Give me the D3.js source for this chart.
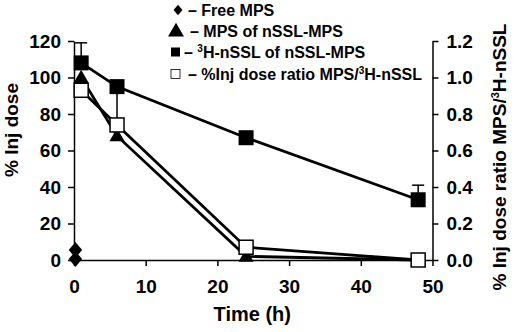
<!DOCTYPE html>
<html>
<head>
<meta charset="utf-8">
<script src="https://cdn.jsdelivr.net/npm/d3@7"></script>
<style>
  body { margin: 0; background: #fff; }
  text { font-family: "Liberation Sans", Arial, sans-serif; font-weight: bold; fill: #000; }
  .axis path, .axis line { stroke: #000; stroke-width: 1.5; }
</style>
</head>
<body>
<div id="graph"></div>
<script>
// time points (h)
var timesFree = [0.2, 0.2];
var freeMPS = [5.5, 0.5];

var times = [1, 6, 24, 48];
var mpsOfNssl = [100, 68, 2, 0];
var nsslH3 = [108, 95, 67, 33];
var nsslErrUp = [11, 0, 0, 8];
var nsslErrDown = [0, 20, 0, 0];
var ratio = [0.93, 0.74, 0.07, 0.0];   // right axis

var xTicks = [0, 10, 20, 30, 40, 50];
var yTicks = [0, 20, 40, 60, 80, 100, 120];
var y2Ticks = [0, 0.2, 0.4, 0.6, 0.8, 1.0, 1.2];

var legendLabels = ["Free MPS", "MPS of nSSL-MPS", "H-nSSL of nSSL-MPS", "%Inj dose ratio MPS/"];

var width = 514, height = 332;
var margin = { top: 41, right: 82, bottom: 72, left: 74 };

var svg = d3.select("#graph").append("svg")
  .attr("width", width)
  .attr("height", height);

var x = d3.scaleLinear().domain([0, 50]).range([margin.left, width - margin.right + 0.5]);
var y = d3.scaleLinear().domain([0, 120]).range([height - margin.bottom, margin.top]);
var y2 = d3.scaleLinear().domain([0, 1.2]).range([height - margin.bottom, margin.top]);

// diamond with its own width / height
var diamond = {
  draw: function (ctx, size) {
    var h = Math.sqrt(size) / 2, w = h * 0.85;
    ctx.moveTo(0, -h); ctx.lineTo(w, 0); ctx.lineTo(0, h); ctx.lineTo(-w, 0); ctx.closePath();
  }
};

// axes
var xAxis = svg.append("g").attr("class", "axis")
  .attr("transform", "translate(0," + y(0) + ")")
  .call(d3.axisBottom(x).tickValues(xTicks).tickSize(6).tickSizeOuter(0).tickPadding(14));
xAxis.selectAll("text").style("font-size", "19px");

var yAxis = svg.append("g").attr("class", "axis")
  .attr("transform", "translate(" + x(0) + ",0)")
  .call(d3.axisLeft(y).tickValues(yTicks).tickSize(6).tickSizeOuter(0).tickPadding(7));
yAxis.selectAll("text").style("font-size", "19px");

var y2Axis = svg.append("g").attr("class", "axis")
  .attr("transform", "translate(" + x(50) + ",0)")
  .call(d3.axisRight(y2).tickValues(y2Ticks).tickFormat(d3.format(".1f")).tickSize(6).tickSizeOuter(0).tickPadding(8));
y2Axis.selectAll("text").style("font-size", "19px");

// axis titles
svg.append("text")
  .attr("x", x(25) - 1).attr("y", 321)
  .attr("text-anchor", "middle")
  .style("font-size", "20px")
  .text("Time (h)");

svg.append("text")
  .attr("transform", "translate(18,130) rotate(-90)")
  .attr("text-anchor", "middle")
  .style("font-size", "19px")
  .text("% Inj dose");

var t2 = svg.append("text")
  .attr("transform", "translate(506,157) rotate(-90)")
  .attr("text-anchor", "middle")
  .style("font-size", "19px");
t2.append("tspan").text("% Inj dose ratio MPS/");
t2.append("tspan").attr("dy", -7).style("font-size", "11px").text("3");
t2.append("tspan").attr("dy", 7).text("H-nSSL");

// lines
var line = d3.line().x(function (d) { return x(d[0]); }).y(function (d) { return d[1]; });

svg.append("path")
  .datum(times.map(function (t, i) { return [t, y(nsslH3[i])]; }))
  .attr("d", line).attr("fill", "none").attr("stroke", "#000").attr("stroke-width", 2.8);
svg.append("path")
  .datum(times.map(function (t, i) { return [t, y(mpsOfNssl[i])]; }))
  .attr("d", line).attr("fill", "none").attr("stroke", "#000").attr("stroke-width", 2.8);
svg.append("path")
  .datum(times.map(function (t, i) { return [t, y2(ratio[i])]; }))
  .attr("d", line).attr("fill", "none").attr("stroke", "#000").attr("stroke-width", 2.8);

// error bars for 3H-nSSL
var err = svg.append("g");
times.forEach(function (t, i) {
  if (nsslErrUp[i] > 0) {
    err.append("line").attr("x1", x(t)).attr("x2", x(t))
      .attr("y1", y(nsslH3[i])).attr("y2", y(nsslH3[i] + nsslErrUp[i]))
      .attr("stroke", "#000").attr("stroke-width", 1.5);
    err.append("line").attr("x1", x(t) - 6).attr("x2", x(t) + 6)
      .attr("y1", y(nsslH3[i] + nsslErrUp[i])).attr("y2", y(nsslH3[i] + nsslErrUp[i]))
      .attr("stroke", "#000").attr("stroke-width", 1.5);
  }
  if (nsslErrDown[i] > 0) {
    err.append("line").attr("x1", x(t)).attr("x2", x(t))
      .attr("y1", y(nsslH3[i])).attr("y2", y(nsslH3[i] - nsslErrDown[i]))
      .attr("stroke", "#000").attr("stroke-width", 1.5);
  }
});

// markers
svg.selectAll(".free").data(freeMPS).enter().append("path")
  .attr("transform", function (d, i) { return "translate(" + x(timesFree[i]) + "," + y(d) + ")"; })
  .attr("d", d3.symbol().type(diamond).size(250)());

svg.selectAll(".tri").data(mpsOfNssl).enter().append("path")
  .attr("transform", function (d, i) { return "translate(" + x(times[i]) + "," + (y(d) + 1) + ")"; })
  .attr("d", d3.symbol().type(d3.symbolTriangle).size(100)());

svg.selectAll(".fsq").data(nsslH3).enter().append("rect")
  .attr("x", function (d, i) { return x(times[i]) - 7.5; })
  .attr("y", function (d) { return y(d) - 7.5; })
  .attr("width", 15).attr("height", 15)
  .attr("fill", "#000");

svg.selectAll(".osq").data(ratio).enter().append("rect")
  .attr("x", function (d, i) { return x(times[i]) - 7; })
  .attr("y", function (d) { return y2(d) - 7; })
  .attr("width", 14).attr("height", 14)
  .attr("fill", "#fff").attr("stroke", "#000").attr("stroke-width", 1.5);

// legend
var lg = svg.append("g");
var rows = [10, 31, 52, 74];
lg.append("path").attr("transform", "translate(178," + rows[0] + ")")
  .attr("d", d3.symbol().type(diamond).size(110)());
lg.append("path").attr("transform", "translate(176," + (rows[1] + 1) + ")")
  .attr("d", d3.symbol().type(d3.symbolTriangle).size(110)());
lg.append("rect").attr("x", 171).attr("y", rows[2] - 4.5).attr("width", 9).attr("height", 9).attr("fill", "#000");
lg.append("rect").attr("x", 171).attr("y", rows[3] - 4.5).attr("width", 9).attr("height", 9)
  .attr("fill", "#fff").attr("stroke", "#000").attr("stroke-width", 0.8);

var fs = "16px";
lg.append("text").attr("x", 188).attr("y", rows[0] + 6).style("font-size", fs).text("\u2013 " + legendLabels[0]);
lg.append("text").attr("x", 190).attr("y", rows[1] + 6).style("font-size", fs).text("\u2013 " + legendLabels[1]);
var l3 = lg.append("text").attr("x", 184).attr("y", rows[2] + 6).style("font-size", fs);
l3.append("tspan").text("\u2013 ");
l3.append("tspan").attr("dy", -6).style("font-size", "10px").text("3");
l3.append("tspan").attr("dy", 6).text(legendLabels[2]);
var l4 = lg.append("text").attr("x", 188).attr("y", rows[3] + 6).style("font-size", fs);
l4.append("tspan").text("\u2013  " + legendLabels[3]);
l4.append("tspan").attr("dy", -6).style("font-size", "10px").text("3");
l4.append("tspan").attr("dy", 6).text("H-nSSL");
</script>
</body>
</html>
